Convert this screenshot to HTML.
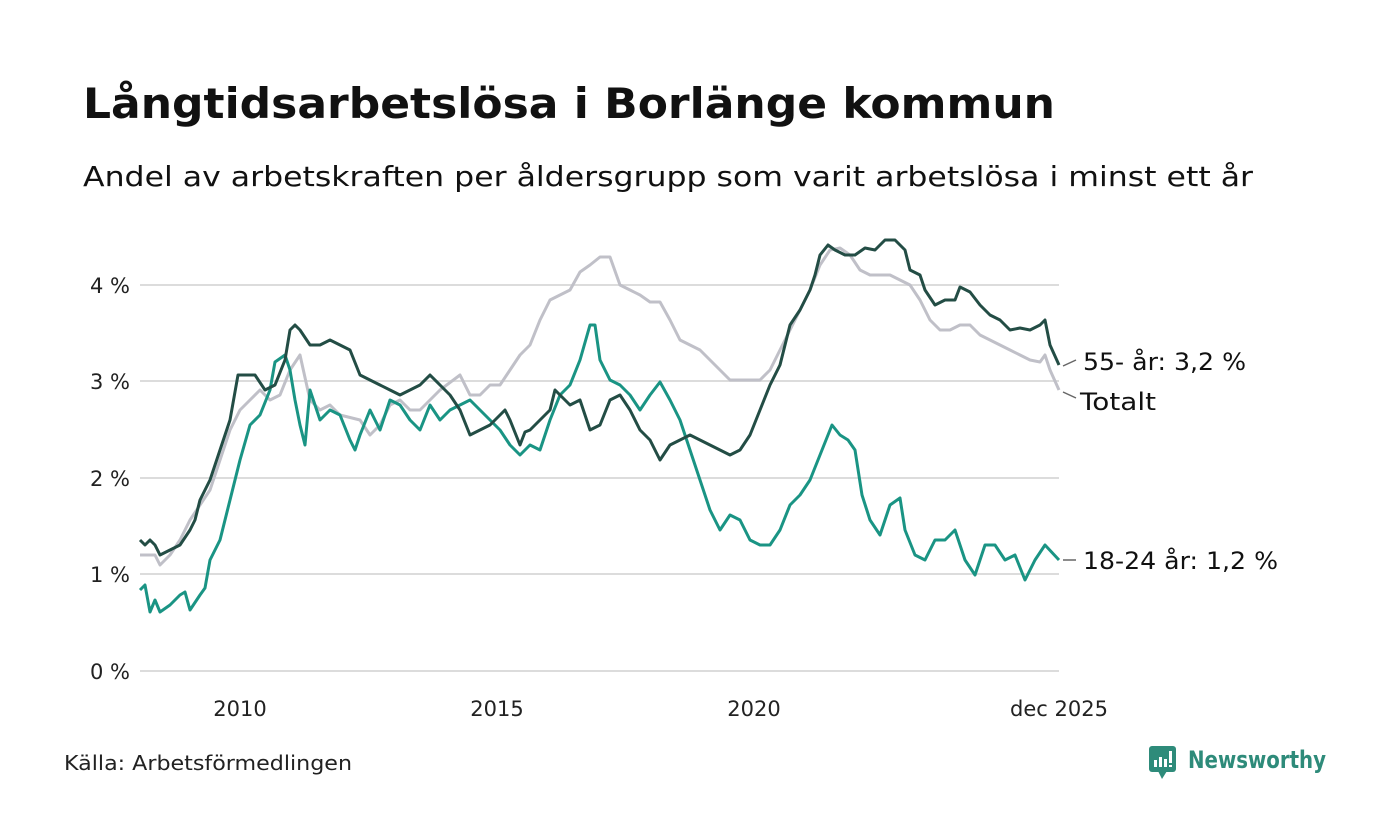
<!DOCTYPE html>
<html><head><meta charset="utf-8"><style>
body{margin:0;background:#fff;}
svg{display:block;font-family:"DejaVu Sans","Liberation Sans",sans-serif;}
</style></head><body>
<svg width="1400" height="840" viewBox="0 0 1400 840" xmlns="http://www.w3.org/2000/svg">
<rect width="1400" height="840" fill="#fff"/>
<text x="83" y="118" font-size="42" font-weight="bold" fill="#111" textLength="972" lengthAdjust="spacingAndGlyphs">Långtidsarbetslösa i Borlänge kommun</text>
<text x="83" y="186" font-size="28" fill="#111" textLength="1170" lengthAdjust="spacingAndGlyphs">Andel av arbetskraften per åldersgrupp som varit arbetslösa i minst ett år</text>
<g stroke="#dcdcdc" stroke-width="2">
<line x1="140" x2="1059" y1="285" y2="285"/><line x1="140" x2="1059" y1="381" y2="381"/>
<line x1="140" x2="1059" y1="478" y2="478"/><line x1="140" x2="1059" y1="574" y2="574"/>
<line x1="140" x2="1059" y1="671" y2="671"/>
</g>
<g font-size="21" fill="#222" text-anchor="end">
<text x="130" y="293">4 %</text><text x="130" y="389">3 %</text><text x="130" y="486">2 %</text><text x="130" y="582">1 %</text><text x="130" y="679">0 %</text>
</g>
<g font-size="21" fill="#222" text-anchor="middle">
<text x="240" y="716">2010</text><text x="497" y="716">2015</text><text x="754" y="716">2020</text><text x="1059" y="716">dec 2025</text>
</g>
<g fill="none" stroke-width="3" stroke-linejoin="round">
<polyline stroke="#c0c0c8" points="140,555 155,555 160,565 170,555 180,540 190,520 200,505 210,490 220,460 230,430 240,410 250,400 260,390 270,400 280,395 290,370 300,355 310,400 320,410 330,405 340,415 360,420 370,435 380,425 390,405 400,400 410,410 420,410 440,390 460,375 470,395 480,395 490,385 500,385 510,370 520,355 530,345 540,320 550,300 560,295 570,290 580,272 590,265 600,257 610,257 620,285 630,290 640,295 650,302 660,302 670,320 680,340 690,345 700,350 710,360 720,370 730,380 740,380 760,380 770,370 780,350 790,330 800,310 810,290 820,265 830,250 840,248 850,255 860,270 870,275 890,275 900,280 910,285 920,300 930,320 940,330 950,330 960,325 970,325 980,335 990,340 1000,345 1010,350 1020,355 1030,360 1040,362 1045,355 1050,370 1059,390"/>
<polyline stroke="#1a9484" points="140,590 145,585 150,612 155,600 160,612 170,605 180,595 185,592 190,610 200,595 205,588 210,560 220,540 230,500 240,460 250,425 260,415 270,390 275,362 285,355 290,370 295,400 300,425 305,445 310,390 320,420 330,410 340,415 350,440 355,450 360,435 370,410 380,430 390,400 400,405 410,420 420,430 430,405 440,420 450,410 460,405 470,400 480,410 490,420 500,430 510,445 520,455 530,445 540,450 550,420 560,395 570,385 580,360 590,325 595,325 600,360 610,380 620,385 630,395 640,410 650,395 660,382 670,400 680,420 690,450 700,480 710,510 720,530 730,515 740,520 750,540 760,545 770,545 780,530 790,505 800,495 810,480 820,455 832,425 840,435 848,440 855,450 862,495 870,520 880,535 890,505 900,498 905,530 915,555 925,560 935,540 945,540 955,530 965,560 975,575 985,545 995,545 1005,560 1015,555 1025,580 1035,560 1045,545 1059,560"/>
<polyline stroke="#234d45" points="140,540 145,545 150,540 155,545 160,555 170,550 180,545 190,530 195,520 200,500 210,480 220,450 230,420 238,375 245,375 255,375 265,390 275,385 285,360 290,330 295,325 300,330 310,345 320,345 330,340 340,345 350,350 360,375 370,380 380,385 390,390 400,395 410,390 420,385 430,375 440,385 450,395 460,410 470,435 480,430 490,425 500,415 505,410 510,420 520,445 525,432 530,430 540,420 550,410 555,390 560,395 570,405 580,400 590,430 600,425 610,400 620,395 630,410 640,430 650,440 660,460 670,445 680,440 690,435 700,440 710,445 720,450 730,455 740,450 750,435 760,410 770,385 780,365 790,325 800,310 810,290 815,275 820,255 828,245 835,250 845,255 855,255 865,248 875,250 885,240 895,240 905,250 910,270 920,275 925,290 935,305 945,300 955,300 960,287 970,292 980,305 990,315 1000,320 1010,330 1020,328 1030,330 1040,325 1045,320 1050,345 1059,365"/>
</g>
<g stroke="#666" stroke-width="1.5">
<line x1="1063" y1="366" x2="1076" y2="360"/><line x1="1063" y1="392" x2="1076" y2="398"/><line x1="1063" y1="560" x2="1076" y2="560"/>
</g>
<g font-size="24" fill="#111">
<text x="1083" y="370" textLength="163" lengthAdjust="spacingAndGlyphs">55- år: 3,2 %</text>
<text x="1080" y="410" textLength="76" lengthAdjust="spacingAndGlyphs">Totalt</text>
<text x="1083" y="569" textLength="195" lengthAdjust="spacingAndGlyphs">18-24 år: 1,2 %</text>
</g>
<text x="64" y="770" font-size="20" fill="#222" textLength="288" lengthAdjust="spacingAndGlyphs">Källa: Arbetsförmedlingen</text>
<g>
<rect x="1149" y="746" width="27" height="26" rx="3" fill="#2e8b7a"/>
<polygon points="1158,771 1167,771 1162,779" fill="#2e8b7a"/>
<rect x="1154" y="760" width="3" height="7" fill="#fff"/><rect x="1159" y="757" width="3" height="10" fill="#fff"/><rect x="1164" y="759" width="3" height="8" fill="#fff"/><rect x="1169" y="751" width="3" height="12" fill="#fff"/><rect x="1169" y="765" width="3" height="2" fill="#fff"/>
<text x="1188" y="768" font-size="24" font-weight="bold" fill="#2e8b7a" textLength="138" lengthAdjust="spacingAndGlyphs">Newsworthy</text>
</g>
</svg>
</body></html>
